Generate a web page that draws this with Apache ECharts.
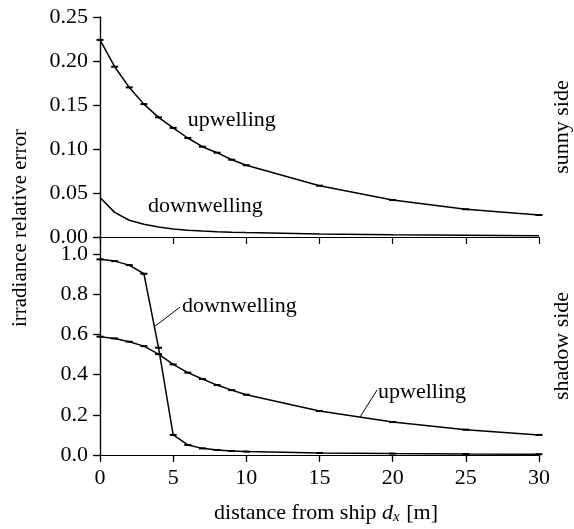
<!DOCTYPE html>
<html lang="en">
<head>
    <meta charset="UTF-8">
    <script src="https://cdn.jsdelivr.net/npm/echarts@6/dist/echarts.min.js"></script>
    <style>
        html, body { margin: 0; padding: 0; background: #fff; }
    </style>
</head>
<body>
    <div id="main" style="width: 574px; height: 529px;"></div>

    <script>
        // distance from ship (m)
        var dx = [0, 1, 2, 3, 4, 5, 6, 7, 8, 9, 10, 15, 20, 25, 30];

        // sunny side
        var sunnyUp = [0.224, 0.1935, 0.170, 0.151, 0.136, 0.124, 0.1125, 0.1026, 0.0958, 0.0878, 0.0815, 0.0583, 0.042, 0.0315, 0.025];
        var sunnyDown = [0.045, 0.028, 0.019, 0.0144, 0.0114, 0.0092, 0.0078, 0.0068, 0.006, 0.0054, 0.005, 0.0035, 0.0025, 0.002, 0.0015];

        // shadow side
        var shadowUp = [0.589, 0.580, 0.564, 0.542, 0.502, 0.451, 0.410, 0.378, 0.348, 0.323, 0.300, 0.219, 0.164, 0.126, 0.100];
        var shadowDown = [0.974, 0.965, 0.945, 0.902, 0.534, 0.100, 0.050, 0.033, 0.025, 0.020, 0.017, 0.010, 0.007, 0.005, 0.004];

        // annotations: [grid, text, x, y] and leader lines [grid, x1, y1, x2, y2]
        var notes = [
            [0, 'upwelling', 6.0, 0.133],
            [0, 'downwelling', 3.28, 0.035],
            [1, 'downwelling', 5.6, 0.74],
            [1, 'upwelling', 19.0, 0.31]
        ];
        var leaders = [
            [1, 3.69, 0.637, 5.47, 0.736],
            [1, 17.77, 0.189, 18.93, 0.323]
        ];

        var font = 'Liberation Serif';
        var fs = 22;

        function pair(ys) {
            return dx.map(function (x, i) { return [x, ys[i]]; });
        }

        var dom = document.getElementById('main');
        var chart = echarts.init(dom, null, { renderer: 'canvas' });

        var lineStyle = { color: '#000', width: 1.5 };

        function xAxisDef(grid, pos, labels, inside, len, showTick) {
            return {
                type: 'value', gridIndex: grid, position: pos,
                min: 0, max: 30, interval: 5,
                axisLine: { show: true, lineStyle: { color: '#000', width: 1.2 } },
                axisTick: { show: showTick, inside: inside, length: len, lineStyle: { color: '#000', width: 1.2 } },
                axisLabel: { show: labels, color: '#000', fontFamily: font, fontSize: fs, margin: 12 },
                splitLine: { show: false }
            };
        }

        function yAxisDef(grid, pos, max, interval, digits, labels, name) {
            return {
                type: 'value', gridIndex: grid, position: pos,
                min: 0, max: max, interval: interval,
                name: name, nameLocation: 'middle', nameRotate: 90, nameGap: 12,
                nameTextStyle: { color: '#000', fontFamily: font, fontSize: fs },
                axisLine: { show: true, lineStyle: { color: '#000', width: 1.2 } },
                axisTick: { show: true, inside: pos === 'right', length: pos === 'right' ? 7 : 6, lineStyle: { color: '#000', width: 1.2 } },
                axisLabel: {
                    show: labels, color: '#000', fontFamily: font, fontSize: fs, margin: 12,
                    showMaxLabel: max % interval < 1e-9 || interval - (max % interval) < 1e-9,
                    formatter: function (v) { return v.toFixed(digits); }
                },
                splitLine: { show: false }
            };
        }

        chart.setOption({
            animation: false,
            grid: [
                { left: 100, right: 35, top: 17, height: 220, outerBoundsMode: 'none', containLabel: false },
                { left: 100, right: 35, top: 237, height: 218, outerBoundsMode: 'none', containLabel: false }
            ],
            xAxis: [
                xAxisDef(0, 'bottom', false, true, 0, false),
                xAxisDef(0, 'top', false, true, 7, true),
                xAxisDef(1, 'bottom', true, false, 5, true),
                xAxisDef(1, 'top', false, true, 7, true)
            ],
            yAxis: [
                yAxisDef(0, 'left', 0.25, 0.05, 2, true, ''),
                yAxisDef(0, 'right', 0.25, 0.05, 2, false, 'sunny side'),
                yAxisDef(1, 'left', 1.085, 0.2, 1, true, ''),
                yAxisDef(1, 'right', 1.085, 0.2, 1, false, 'shadow side')
            ],
            series: [
                { type: 'line', xAxisIndex: 0, yAxisIndex: 0, data: pair(sunnyUp), lineStyle: lineStyle,
                  symbol: 'rect', symbolSize: [7, 2], showAllSymbol: true, itemStyle: { color: '#000' } },
                { type: 'line', xAxisIndex: 0, yAxisIndex: 0, data: pair(sunnyDown), lineStyle: lineStyle,
                  showSymbol: false },
                { type: 'line', xAxisIndex: 2, yAxisIndex: 2, data: pair(shadowUp), lineStyle: lineStyle,
                  symbol: 'rect', symbolSize: [7, 2], showAllSymbol: true, itemStyle: { color: '#000' } },
                { type: 'line', xAxisIndex: 2, yAxisIndex: 2, data: pair(shadowDown), lineStyle: lineStyle,
                  symbol: 'rect', symbolSize: [7, 2], showAllSymbol: true, itemStyle: { color: '#000' } }
            ]
        });

        function toPx(grid, x, y) {
            return chart.convertToPixel({ xAxisIndex: grid * 2, yAxisIndex: grid * 2 }, [x, y]);
        }

        var graphics = [];
        notes.forEach(function (n) {
            var p = toPx(n[0], n[2], n[3]);
            graphics.push({
                type: 'text', x: p[0], y: p[1],
                style: { text: n[1], fill: '#000', font: fs + 'px "' + font + '"', verticalAlign: 'middle' }
            });
        });
        leaders.forEach(function (l) {
            var a = toPx(l[0], l[1], l[2]);
            var b = toPx(l[0], l[3], l[4]);
            graphics.push({
                type: 'line', shape: { x1: a[0], y1: a[1], x2: b[0], y2: b[1] },
                style: { stroke: '#000', lineWidth: 1 }
            });
        });
        graphics.push({
            type: 'text', x: 20, y: 228, rotation: Math.PI / 2,
            style: { text: 'irradiance relative error', fill: '#000', font: '21px "' + font + '"', align: 'center', verticalAlign: 'middle' }
        });
        graphics.push({
            type: 'text', x: 326, y: 513,
            style: {
                text: 'distance from ship {i|d}{s|x} [m]', fill: '#000',
                font: fs + 'px "' + font + '"', align: 'center', verticalAlign: 'middle',
                rich: {
                    i: { fontFamily: font, fontSize: fs, fontStyle: 'italic' },
                    s: { fontFamily: font, fontSize: 15, fontStyle: 'italic', padding: [9, 1, 0, 0] }
                }
            }
        });
        chart.setOption({ graphic: graphics });
    </script>
</body>
</html>
